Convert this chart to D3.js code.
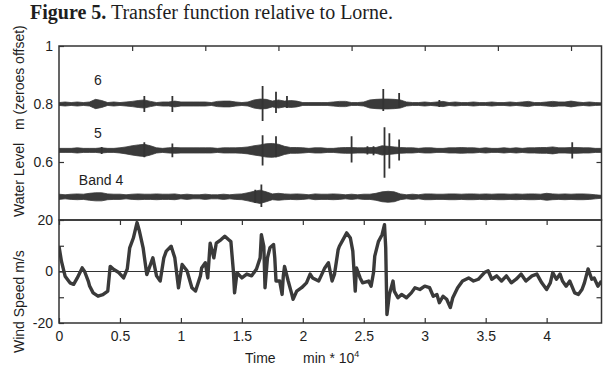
<!DOCTYPE html>
<html>
<head>
<meta charset="utf-8">
<script src="https://cdn.jsdelivr.net/npm/d3@7"></script>
<style>
  body { margin: 0; background: #fff; }
  svg text { font-family: "Liberation Sans", Arial, sans-serif; fill: #1e1e1e; }
</style>
</head>
<body>
<div id="chart"></div>
<script>
// --- data (time in min * 10^4) ---
const timeDomain = [0, 4.45];
const timeTicks = [0, 0.5, 1, 1.5, 2, 2.5, 3, 3.5, 4];
const hourTicks = [0.6, 1.2, 1.8, 2.4, 3.0, 3.6, 4.2]; // top panel ticks (every 100 h)

// wind speed, m/s
const windTime = [0.00,0.02,0.05,0.09,0.12,0.15,0.19,0.21,0.24,0.25,0.28,0.32,0.36,0.40,0.42,0.45,0.49,0.53,0.56,0.58,
  0.61,0.64,0.66,0.69,0.72,0.75,0.77,0.80,0.83,0.86,0.88,0.92,0.95,0.98,1.01,1.05,1.09,1.12,1.16,1.17,
  1.20,1.22,1.24,1.27,1.29,1.33,1.36,1.39,1.41,1.43,1.44,1.46,1.50,1.54,1.58,1.62,1.65,1.66,1.68,1.69,
  1.71,1.73,1.76,1.77,1.78,1.81,1.83,1.84,1.85,1.88,1.91,1.92,1.95,1.99,2.03,2.06,2.08,2.13,2.15,2.18,
  2.21,2.24,2.26,2.29,2.30,2.33,2.36,2.39,2.41,2.43,2.44,2.47,2.49,2.54,2.56,2.58,2.59,2.62,2.65,2.67,
  2.68,2.69,2.71,2.74,2.75,2.78,2.81,2.85,2.89,2.92,2.96,3.00,3.04,3.07,3.10,3.12,3.15,3.18,3.21,3.23,
  3.27,3.31,3.36,3.40,3.44,3.45,3.49,3.52,3.55,3.59,3.63,3.67,3.71,3.75,3.79,3.83,3.88,3.92,3.96,4.00,
  4.03,4.05,4.08,4.11,4.13,4.16,4.19,4.23,4.26,4.29,4.31,4.34,4.37,4.39,4.42,4.45];
const windSpeed = [9.8,4.0,-1.8,-4.4,-5.0,-2.5,1.4,0.0,-3.7,-5.5,-8.3,-9.6,-9.0,-7.6,2.0,0.8,-0.4,-2.5,1.0,9.2,
  13.0,19.0,15.6,9.2,-1.2,2.7,5.3,-1.7,-3.7,5.3,7.9,9.8,5.3,-6.3,2.7,0.3,-6.3,-7.6,-1.7,1.4,
  3.4,-2.5,11.0,5.3,11.0,12.4,13.7,12.4,11.6,0.3,-8.3,-0.5,-2.5,-1.0,-1.7,1.0,5.3,14.3,9.8,-6.3,
  5.3,9.2,10.5,5.3,-3.7,-3.7,-8.9,-1.7,2.0,-3.7,-8.9,-10.8,-7.6,-6.3,-4.4,-1.0,-2.5,-3.7,-1.7,1.4,
  3.4,-3.7,-1.0,8.5,9.8,12.4,15.0,13.0,7.9,-7.6,1.4,-2.5,-4.4,-3.7,-5.7,-0.4,6.0,11.6,14.3,18.2,
  9.2,-16.7,-8.9,-3.7,-7.6,-10.2,-8.9,-10.2,-8.3,-6.3,-7.0,-5.7,-6.3,-9.6,-8.9,-12.1,-9.6,-10.8,-14.0,-10.2,
  -6.3,-3.7,-2.5,-3.7,-3.0,-2.5,-0.4,0.3,-3.0,-1.7,-3.7,-1.7,-4.4,-3.0,-1.0,-3.7,-1.7,-1.0,-4.4,-7.0,
  -4.4,-0.4,-3.0,-1.0,-3.7,-5.7,-3.7,-8.3,-8.9,-7.0,-4.4,1.0,-3.0,-2.5,-5.7,-3.7];

// water level bands: offsets (m) and envelope half-amplitude (mm), one value per 0.05 * 10^4 min
const bandNames = ["6", "5", "Band 4"];
const bandOffsets = [0.8, 0.64, 0.48];
const envStep = 0.05;
const band6Amp = [5,7,5,7,5,7,16,12,5,7, 5,7,9,12,14,9,5,7,7,10, 7,7,7,7,7,5,9,10,10,7,
  5,7,14,17,16,10,14,10,12,10, 5,5,5,5,5,7,9,9,5,5, 7,14,16,17,17,16,14,7,5,5,
  7,5,7,9,5,7,5,5,7,5, 5,7,5,5,7,5,7,9,5,5, 7,9,7,7,10,7,5,7,5,4];
const band5Amp = [7,7,7,9,7,7,7,9,7,7, 9,12,16,19,21,16,9,7,9,10, 9,9,9,9,9,9,7,9,9,9,
  10,12,16,19,23,24,21,14,10,10, 9,7,9,9,7,7,9,10,10,9, 9,10,10,16,14,12,10,9,9,7,
  9,9,7,7,9,9,10,9,9,7, 9,7,7,9,7,9,7,9,9,10, 10,12,9,9,10,10,9,9,7,7];
const band4Amp = [9,7,9,10,9,12,14,14,10,9, 9,7,9,10,9,9,10,9,9,10, 7,9,7,7,9,7,7,9,7,9,
  10,14,19,23,17,10,12,10,9,10, 9,7,10,9,9,10,9,7,9,7, 9,9,12,17,19,17,10,7,9,7,
  10,10,9,9,10,10,9,10,10,9, 10,9,10,10,9,10,9,10,10,9, 12,10,9,10,9,10,10,9,7,5];

// spikes: time, excursion up (mm), excursion down (mm)
const band6Spikes = [[0.70,28,28],[0.93,28,28],[1.67,62,59],[1.78,42,31],[1.87,28,14],[2.66,52,24],[2.79,38,14],[3.12,14,10]];
const band5Spikes = [[0.35,12,12],[0.70,28,24],[0.93,24,24],[1.67,52,52],[1.78,49,24],[2.40,49,42],[2.53,14,14],
  [2.58,14,17],[2.67,80,94],[2.71,59,62],[2.79,38,35],[4.21,28,28]];
const band4Spikes = [[1.61,24,21],[1.66,42,35]];

// --- layout ---
const width = 603, height = 371;
const left = 59, right = 601.5;
const topY = 46, midY = 220, bottomY = 323;
const ink = "#333";

const svg = d3.select("#chart").append("svg")
  .attr("width", width)
  .attr("height", height);

const x = d3.scaleLinear().domain(timeDomain).range([left, right]);
const yLevel = d3.scaleLinear().domain([0.4, 1]).range([midY, topY]);
const yWind = d3.scaleLinear().domain([-20, 20]).range([bottomY, midY]);

svg.append("defs").append("clipPath").attr("id", "clipTop")
  .append("rect").attr("x", left).attr("y", topY).attr("width", right - left).attr("height", midY - topY);
svg.select("defs").append("clipPath").attr("id", "clipBottom")
  .append("rect").attr("x", left).attr("y", midY).attr("width", right - left).attr("height", bottomY - midY);

// title
const title = svg.append("text")
  .attr("x", 30).attr("y", 19)
  .style("font-family", "'Liberation Serif', 'Times New Roman', serif")
  .style("font-size", "20px");
title.append("tspan").style("font-weight", "bold").text("Figure 5.");
title.append("tspan").text(" Transfer function relative to Lorne.");

// --- water level bands ---
const bands = [band6Amp, band5Amp, band4Amp];
const spikes = [band6Spikes, band5Spikes, band4Spikes];
const gTop = svg.append("g").attr("clip-path", "url(#clipTop)");

bands.forEach((amp, k) => {
  const base = bandOffsets[k];
  const area = d3.area()
    .x((d, i) => x(i * envStep))
    .y0(d => yLevel(base - d / 1000))
    .y1(d => yLevel(base + d / 1000));
  gTop.append("path")
    .datum(amp)
    .attr("d", area)
    .attr("fill", "#3a3a3a")
    .attr("stroke", "#3a3a3a")
    .attr("stroke-width", 0.8);

  gTop.selectAll(null)
    .data(spikes[k])
    .enter().append("line")
    .attr("x1", d => x(d[0])).attr("x2", d => x(d[0]))
    .attr("y1", d => yLevel(base + d[1] / 1000))
    .attr("y2", d => yLevel(base - d[2] / 1000))
    .attr("stroke", "#333")
    .attr("stroke-width", 1.8);
});

// band labels
const labelPos = [[98, 85], [98, 138], [101, 185]];
svg.selectAll(".band-label")
  .data(bandNames)
  .enter().append("text")
  .attr("class", "band-label")
  .attr("x", (d, i) => labelPos[i][0])
  .attr("y", (d, i) => labelPos[i][1])
  .attr("text-anchor", "middle")
  .style("font-size", "14px")
  .text(d => d);

// --- wind speed ---
const gBottom = svg.append("g").attr("clip-path", "url(#clipBottom)");
gBottom.append("line")
  .attr("x1", left).attr("x2", right)
  .attr("y1", yWind(0)).attr("y2", yWind(0))
  .attr("stroke", ink).attr("stroke-width", 1.2);

const windLine = d3.line()
  .x((d, i) => x(windTime[i]))
  .y(d => yWind(d));
gBottom.append("path")
  .datum(windSpeed)
  .attr("d", windLine)
  .attr("fill", "none")
  .attr("stroke", "#3a3a3a")
  .attr("stroke-width", 3.4)
  .attr("stroke-linejoin", "round");

// --- frames ---
[[topY, midY], [midY, bottomY]].forEach(([a, b]) => {
  svg.append("rect")
    .attr("x", left).attr("y", a)
    .attr("width", right - left).attr("height", b - a)
    .attr("fill", "none")
    .attr("stroke", ink)
    .attr("stroke-width", 1.5);
});

// --- axes ---
function styleAxis(g) {
  g.select(".domain").remove();
  g.selectAll(".tick line").attr("stroke", ink).attr("stroke-width", 1.2);
  g.selectAll(".tick text")
    .style("font-family", "'Liberation Sans', Arial, sans-serif")
    .style("font-size", "14px")
    .attr("fill", "#1e1e1e");
}

// bottom panel x axis
svg.append("g")
  .attr("transform", `translate(0,${bottomY})`)
  .call(d3.axisBottom(x).tickValues(timeTicks).tickSize(-5).tickPadding(8).tickFormat(d => String(d)))
  .call(styleAxis);
svg.append("g")
  .attr("transform", `translate(0,${midY})`)
  .call(d3.axisTop(x).tickValues(timeTicks).tickSize(-5).tickFormat(""))
  .call(styleAxis);

// top panel x ticks
svg.append("g")
  .attr("transform", `translate(0,${topY})`)
  .call(d3.axisTop(x).tickValues(hourTicks).tickSize(-5).tickFormat(""))
  .call(styleAxis);

// top panel y axes
svg.append("g")
  .attr("transform", `translate(${left},0)`)
  .call(d3.axisLeft(yLevel).tickValues([0.6, 0.8, 1]).tickSize(-5).tickPadding(6).tickFormat(d => String(d)))
  .call(styleAxis);
svg.append("g")
  .attr("transform", `translate(${right},0)`)
  .call(d3.axisRight(yLevel).tickValues([0.6, 0.8]).tickSize(-5).tickFormat(""))
  .call(styleAxis);

// bottom panel y axes
svg.append("g")
  .attr("transform", `translate(${left},0)`)
  .call(d3.axisLeft(yWind).tickValues([-20, -10, 0, 10, 20]).tickSize(-5).tickPadding(6)
    .tickFormat(d => d % 20 === 0 ? String(d) : ""))
  .call(styleAxis);
svg.append("g")
  .attr("transform", `translate(${right},0)`)
  .call(d3.axisRight(yWind).tickValues([-10, 10]).tickSize(-5).tickFormat(""))
  .call(styleAxis);

// --- axis titles ---
const xTitle = svg.append("text")
  .attr("x", 245).attr("y", 363)
  .style("font-size", "14px");
xTitle.append("tspan").text("Time");
xTitle.append("tspan").attr("x", 303).text("min * 10");
xTitle.append("tspan").attr("dy", -6).style("font-size", "9px").text("4");

const yTitles = [["Wind Speed m/s", 353], ["Water Level", 217], ["m (zeroes offset)", 130]];
svg.selectAll(".y-title")
  .data(yTitles)
  .enter().append("text")
  .attr("class", "y-title")
  .attr("transform", d => `translate(23.5,${d[1]}) rotate(-90)`)
  .style("font-size", "14px")
  .text(d => d[0]);
</script>
</body>
</html>
